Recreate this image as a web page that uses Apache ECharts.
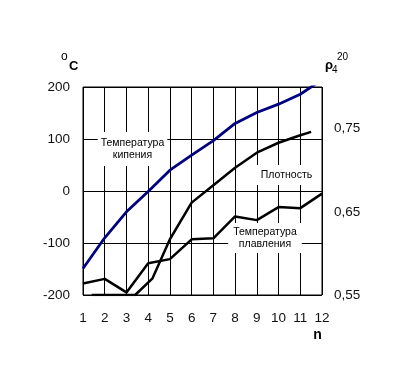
<!DOCTYPE html>
<html>
<head>
<meta charset="utf-8">
<script src="https://cdn.jsdelivr.net/npm/echarts@6/dist/echarts.min.js"></script>
<style>
html,body{margin:0;padding:0;background:#fff;}
#chart{width:414px;height:378px;}
</style>
</head>
<body>
<div id="chart"></div>
<script>
// n values (number of carbon atoms)
const nValues = [1, 2, 3, 4, 5, 6, 7, 8, 9, 10, 11, 12];
// Boiling temperature, °C
const boilingC = [-149, -90, -40, -1, 40, 69, 97, 130, 151, 167, 186, 214];
// Melting temperature, °C
const meltingC = [-178, -169, -195, -139, -131, -93, -91, -49, -56, -31, -33, -5];
// Density ρ4^20 (right axis), positions along n
const densityN = [1.4, 3.4, 4.2, 5, 6, 7, 8, 9, 10, 11, 11.5];
const densityVal = [0.55, 0.55, 0.57, 0.617, 0.661, 0.682, 0.703, 0.721, 0.733, 0.742, 0.746];
// Tick labels
const leftTicks = [-200, -100, 0, 100, 200];
const rightTicks = [0.55, 0.65, 0.75];

const FONT = '"Liberation Sans", Arial, sans-serif';
const chart = echarts.init(document.getElementById('chart'), null, {renderer: 'canvas'});

const pair = (xs, ys) => xs.map((x, i) => [x, ys[i]]);

const option = {
  animation: false,
  backgroundColor: '#fff',
  grid: {left: 83, top: 87, right: 92, bottom: 83, show: true, borderColor: '#000', borderWidth: 1, backgroundColor: 'transparent'},
  xAxis: {
    type: 'value', min: 1, max: 12, interval: 1,
    axisLine: {show: false}, axisTick: {show: false},
    axisLabel: {color: '#111', fontFamily: FONT, fontSize: 13.5, margin: 16},
    splitLine: {show: true, lineStyle: {color: '#000', width: 1}}
  },
  yAxis: [
    {
      type: 'value', min: -200, max: 200, interval: 100,
      axisLine: {show: false}, axisTick: {show: false},
      axisLabel: {color: '#111', fontFamily: FONT, fontSize: 13.5, margin: 13, padding: [3, 0, 0, 0],
        formatter: v => leftTicks.includes(v) ? String(v) : ''},
      splitLine: {show: true, lineStyle: {color: '#000', width: 1}}
    },
    {
      type: 'value', min: 0.55, max: 0.80, interval: 0.05, position: 'right',
      axisLine: {show: false}, axisTick: {show: false},
      axisLabel: {color: '#111', fontFamily: FONT, fontSize: 13.5, margin: 12, padding: [5, 0, 0, 0],
        formatter: v => {
          const r = Math.round(v * 100) / 100;
          return rightTicks.some(t => Math.abs(t - r) < 1e-6) ? r.toFixed(2).replace('.', ',') : '';
        }},
      splitLine: {show: false}
    }
  ],
  series: [
    {name: 'boiling', type: 'line', data: pair(nValues, boilingC), yAxisIndex: 0, symbol: 'none', clip: true,
      lineStyle: {color: '#000080', width: 2.8}, z: 3},
    {name: 'melting', type: 'line', data: pair(nValues, meltingC), yAxisIndex: 0, symbol: 'none', clip: true,
      lineStyle: {color: '#000', width: 2.5}, z: 3},
    {name: 'density', type: 'line', data: pair(densityN, densityVal), yAxisIndex: 1, symbol: 'none', clip: true,
      lineStyle: {color: '#000', width: 2.5}, z: 3}
  ],
  graphic: [
    {type: 'text', x: 132.5, y: 149, z: 1, style: {text: 'Температура\nкипения', align: 'center', verticalAlign: 'middle',
      fill: '#000', fontFamily: FONT, fontSize: 10.5, lineHeight: 12, backgroundColor: '#fff', padding: [5, 3, 5, 3]}},
    {type: 'text', x: 286.5, y: 175, z: 1, style: {text: 'Плотность', align: 'center', verticalAlign: 'middle',
      fill: '#000', fontFamily: FONT, fontSize: 10.5, lineHeight: 12, backgroundColor: '#fff', padding: [4, 4, 4, 4]}},
    {type: 'text', x: 265, y: 238, z: 1, style: {text: 'Температура\nплавления', align: 'center', verticalAlign: 'middle',
      fill: '#000', fontFamily: FONT, fontSize: 10.5, lineHeight: 12, backgroundColor: '#fff', padding: [3, 5, 3, 5]}},
    // axis titles
    {type: 'text', x: 61, y: 57, style: {text: 'o', fill: '#000', fontFamily: FONT, fontSize: 12, align: 'left', verticalAlign: 'middle'}},
    {type: 'text', x: 69, y: 66, style: {text: 'C', fill: '#000', fontFamily: FONT, fontSize: 13, fontWeight: 'bold', align: 'left', verticalAlign: 'middle'}},
    {type: 'text', x: 325, y: 65, style: {text: 'ρ', fill: '#000', fontFamily: FONT, fontSize: 13, fontWeight: 'bold', align: 'left', verticalAlign: 'middle'}},
    {type: 'text', x: 332, y: 70, style: {text: '4', fill: '#000', fontFamily: FONT, fontSize: 10, align: 'left', verticalAlign: 'middle'}},
    {type: 'text', x: 337, y: 57, style: {text: '20', fill: '#000', fontFamily: FONT, fontSize: 10, align: 'left', verticalAlign: 'middle'}},
    {type: 'text', x: 317.5, y: 335, style: {text: 'n', fill: '#000', fontFamily: FONT, fontSize: 14, fontWeight: 'bold', align: 'center', verticalAlign: 'middle'}}
  ]
};
chart.setOption(option);
</script>
</body>
</html>
